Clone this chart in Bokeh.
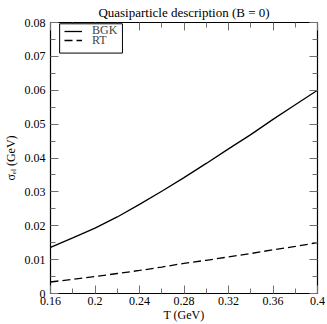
from bokeh.plotting import figure
from bokeh.models import (Range1d, LinearAxis, FixedTicker, Legend,
                          LegendItem, CustomJSTickFormatter, BoxAnnotation)
from bokeh.embed import file_html
from bokeh.resources import INLINE

# ---- data ----
T = [0.16, 0.18, 0.20, 0.22, 0.24, 0.26, 0.28, 0.30, 0.32, 0.34, 0.36, 0.38, 0.40]
bgk = [0.0136, 0.0164, 0.0193, 0.0226, 0.0263, 0.0302, 0.0342, 0.0384, 0.0427,
       0.0469, 0.0514, 0.0557, 0.0600]
rt = [0.0034, 0.0042, 0.0050, 0.0059, 0.0068, 0.0078, 0.0089, 0.0098, 0.0108,
      0.0118, 0.0129, 0.0139, 0.0150]
series_names = ["BGK", "RT"]

x_ticks = [0.16, 0.20, 0.24, 0.28, 0.32, 0.36, 0.40]
x_minor = [0.18, 0.22, 0.26, 0.30, 0.34, 0.38]
y_ticks = [0.0, 0.01, 0.02, 0.03, 0.04, 0.05, 0.06, 0.07, 0.08]
y_minor = [0.005, 0.015, 0.025, 0.035, 0.045, 0.055, 0.065, 0.075]

title_text = "Quasiparticle description (B = 0)"
x_label = "T (GeV)"
y_label = "\u03c3\u2091\u2097 (GeV)"

X0, X1 = 0.16, 0.40
Y0, Y1 = 0.0, 0.08
FW, FH = 272, 272
dx = (X1 - X0) / FW
dy = (Y1 - Y0) / FH
FONT = "Liberation Serif"
TICK_COLOR = "#707070"

p = figure(width=327, height=324,
           x_range=Range1d(X0, X1), y_range=Range1d(Y0, Y1),
           output_backend="svg", toolbar_location=None,
           min_border_left=45, min_border_right=10,
           min_border_top=22, min_border_bottom=30)
p.grid.visible = False
p.outline_line_color = "black"
p.outline_line_width = 1.2
p.outline_line_alpha = 1.0
p.background_fill_color = "white"
p.border_fill_color = "white"

p.title.text = title_text
p.title.align = "center"
p.title.text_font = FONT
p.title.text_font_size = "13px"
p.title.text_font_style = "normal"
p.title.text_color = "black"
p.title.standoff = 5
p.title.offset = 0

fmt = CustomJSTickFormatter(code="return tick.toFixed(2).replace(/\\.?0+$/, '');")
blank = CustomJSTickFormatter(code="return '';")


def style_axis(ax, ticks, minor, labels=True):
    ax.ticker = FixedTicker(ticks=ticks, minor_ticks=minor)
    ax.axis_line_color = None
    ax.major_tick_in = 8
    ax.major_tick_out = 0
    ax.minor_tick_in = 5
    ax.minor_tick_out = 0
    ax.major_tick_line_color = TICK_COLOR
    ax.minor_tick_line_color = TICK_COLOR
    ax.major_tick_line_width = 1
    ax.minor_tick_line_width = 1
    ax.major_label_text_font = FONT
    ax.major_label_text_font_size = "12px"
    ax.major_label_text_color = "black"
    ax.axis_label_text_font = FONT
    ax.axis_label_text_font_size = "12px"
    ax.axis_label_text_font_style = "normal"
    ax.axis_label_text_color = "black"
    if labels:
        ax.formatter = fmt
        ax.major_label_standoff = 3
    else:
        ax.formatter = blank
        ax.major_label_standoff = 0
        ax.major_label_text_font_size = "0px"


style_axis(p.xaxis[0], x_ticks, x_minor)
style_axis(p.yaxis[0], y_ticks, y_minor)
p.xaxis[0].axis_label = x_label
p.xaxis[0].axis_label_standoff = 0
p.yaxis[0].axis_label = y_label
p.yaxis[0].axis_label_standoff = 4
p.yaxis[0].major_label_standoff = 5

top = LinearAxis()
right = LinearAxis()
style_axis(top, x_ticks, x_minor, labels=False)
style_axis(right, y_ticks, y_minor, labels=False)
p.add_layout(top, "above")
p.add_layout(right, "right")

r1 = p.line(T, bgk, line_color="black", line_width=1.3)
r2 = p.line(T, rt, line_color="black", line_width=1.3, line_dash="8 4")

# legend frame (box in the top-left corner of the plot area)
legend_box = BoxAnnotation(left=X0 + 9.3 * dx, right=X0 + 73.3 * dx,
                           top=Y1 - 1.3 * dy, bottom=Y1 - 30.7 * dy,
                           fill_color="white", fill_alpha=1.0,
                           line_color="black", line_width=1, line_alpha=1.0)
p.add_layout(legend_box)

# one single-item legend per series so the rows can sit close together
ROW_H = 14
row_centers = [32.3 - 22, 41.7 - 22]   # px below the frame top
for name, rend, c in zip(series_names, [r1, r2], row_centers):
    lg = Legend(items=[LegendItem(label=name, renderers=[rend])],
                location=(14, FH - c - ROW_H / 2), orientation="vertical")
    lg.border_line_color = None
    lg.background_fill_alpha = 0
    lg.margin = 0
    lg.padding = 0
    lg.spacing = 0
    lg.label_standoff = 10
    lg.glyph_width = 18
    lg.glyph_height = ROW_H
    lg.label_height = ROW_H
    lg.label_text_font = FONT
    lg.label_text_font_size = "12px"
    p.add_layout(lg, "center")

open("out.html", "w").write(file_html(p, INLINE))
